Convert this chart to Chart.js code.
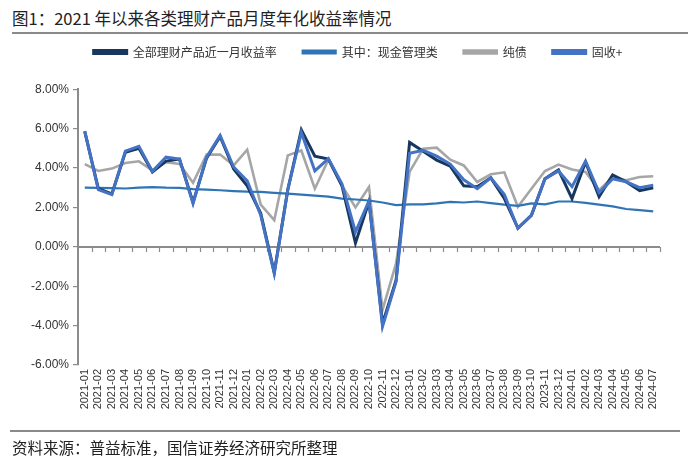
<!DOCTYPE html>
<html>
<head>
<meta charset="utf-8">
<script src="https://cdn.jsdelivr.net/npm/chart.js@4.4.1/dist/chart.umd.min.js"></script>
<style>
  html, body { margin: 0; padding: 0; background: #fff; }
  #wrap { position: relative; width: 700px; height: 468px; overflow: hidden; font-family: "Noto Sans CJK SC", "Liberation Sans", sans-serif; }
  #title { position: absolute; left: 12px; top: 6px; font-size: 16.5px; color: #222; white-space: nowrap; }
  #rule1 { position: absolute; left: 12px; top: 32px; width: 676px; height: 2px; background: #8a8a8a; }
  #rule2 { position: absolute; left: 10px; top: 430px; width: 670px; height: 2px; background: #8a8a8a; }
  #source { position: absolute; left: 12px; top: 436px; font-size: 15.5px; color: #222; white-space: nowrap; }
  #cv { position: absolute; left: 0; top: 0; }
</style>
</head>
<body>
<div id="wrap">
  <div id="title">图1：2021 年以来各类理财产品月度年化收益率情况</div>
  <div id="rule1"></div>
  <canvas id="cv" width="716" height="468"></canvas>
  <div id="rule2"></div>
  <div id="source">资料来源：普益标准，国信证券经济研究所整理</div>
</div>
<script>
const months = ["2021-01","2021-02","2021-03","2021-04","2021-05","2021-06","2021-07","2021-08","2021-09","2021-10","2021-11","2021-12",
  "2022-01","2022-02","2022-03","2022-04","2022-05","2022-06","2022-07","2022-08","2022-09","2022-10","2022-11","2022-12",
  "2023-01","2023-02","2023-03","2023-04","2023-05","2023-06","2023-07","2023-08","2023-09","2023-10","2023-11","2023-12",
  "2024-01","2024-02","2024-03","2024-04","2024-05","2024-06","2024-07"];

const seriesNames = ["全部理财产品近一月收益率", "其中：现金管理类", "纯债", "固收+"];

const allProducts = [5.85, 2.95, 2.68, 4.8, 5.0, 3.8, 4.35, 4.45, 2.25, 4.5, 5.6, 3.95,
  3.1, 1.7, -1.3, 2.9, 5.94, 4.6, 4.45, 3.1, 0.2, 2.3, -3.9, -1.7,
  5.3, 4.85, 4.4, 4.1, 3.1, 3.05, 3.5, 2.45, 0.95, 1.6, 3.45, 3.9,
  2.45, 4.3, 2.55, 3.65, 3.3, 2.85, 3.0];

const cashMgmt = [3.0, 2.99, 2.98, 2.96, 3.0, 3.03, 3.0, 2.99, 2.93, 2.9, 2.87, 2.83,
  2.8, 2.79, 2.74, 2.7, 2.65, 2.6, 2.55, 2.45, 2.4, 2.35, 2.25, 2.12,
  2.15, 2.15, 2.2, 2.28, 2.25, 2.3, 2.22, 2.14, 2.08, 2.2, 2.15, 2.3,
  2.3, 2.23, 2.14, 2.05, 1.92, 1.86, 1.8];

const pureBond = [4.2, 3.85, 3.97, 4.25, 4.34, 3.88, 4.3, 4.2, 3.25, 4.68, 4.68, 4.13,
  4.93, 2.14, 1.35, 4.64, 4.89, 2.95, 4.42, 3.12, 2.0, 3.04, -3.2, -0.84,
  3.8, 4.98, 5.03, 4.42, 4.13, 3.29, 3.68, 3.78, 2.03, 2.95, 3.85, 4.17,
  3.92, 3.8, 2.87, 3.54, 3.38, 3.54, 3.58];

const fixedIncomePlus = [5.88, 2.9, 2.65, 4.86, 5.1, 3.83, 4.55, 4.45, 2.2, 4.55, 5.65, 4.05,
  3.35, 1.6, -1.35, 2.9, 5.8, 3.85, 4.47, 3.2, 0.75, 2.33, -4.05, -1.77,
  4.75, 4.9, 4.6, 4.2, 3.4, 2.95, 3.5, 2.65, 0.93, 1.6, 3.45, 3.85,
  3.05, 4.35, 2.75, 3.45, 3.3, 3.0, 3.12];

const yTicks = [-6, -4, -2, 0, 2, 4, 6, 8];

const zeroAxis = {
  id: 'zeroAxis',
  beforeDatasetsDraw(chart) {
    const ctx = chart.ctx, x = chart.scales.x, y = chart.scales.y;
    const y0 = Math.round(y.getPixelForValue(0));
    const left = chart.chartArea.left, right = chart.chartArea.right;
    ctx.save();
    ctx.strokeStyle = '#8c8c8c';
    ctx.lineWidth = 2;
    ctx.beginPath();
    ctx.moveTo(left, y0); ctx.lineTo(right, y0);
    ctx.stroke();
    ctx.lineWidth = 1.2;
    const n = months.length;
    const step = x.getPixelForValue(1) - x.getPixelForValue(0);
    for (let k = 1; k <= n; k++) {
      const px = Math.round(x.getPixelForValue(k - 1) + step / 2);
      ctx.beginPath();
      ctx.moveTo(px + 0.5, y0);
      ctx.lineTo(px + 0.5, y0 + 5);
      ctx.stroke();
    }
    ctx.restore();
  }
};

new Chart(document.getElementById('cv'), {
  type: 'line',
  data: {
    labels: months,
    datasets: [
      { label: seriesNames[0], data: allProducts, borderColor: '#17375e', backgroundColor: '#17375e', borderWidth: 3, order: 1 },
      { label: seriesNames[1], data: cashMgmt, borderColor: '#2e75b6', backgroundColor: '#2e75b6', borderWidth: 2.2, order: 2 },
      { label: seriesNames[2], data: pureBond, borderColor: '#a6a6a6', backgroundColor: '#a6a6a6', borderWidth: 2.6, order: 3 },
      { label: seriesNames[3], data: fixedIncomePlus, borderColor: '#4472c4', backgroundColor: '#4472c4', borderWidth: 3, order: 0 }
    ]
  },
  options: {
    responsive: false,
    animation: false,
    devicePixelRatio: 1,
    layout: { padding: { top: 20, left: 0, right: 0, bottom: 50 } },
    elements: { point: { radius: 0, hoverRadius: 0 }, line: { tension: 0, borderJoinStyle: 'miter' } },
    plugins: {
      tooltip: { enabled: false },
      legend: {
        position: 'top',
        labels: {
          font: { size: 12, family: '"Noto Sans CJK SC", sans-serif' },
          color: '#333',
          boxWidth: 33,
          boxHeight: 3,
          padding: 26,
          sort: (a, b) => a.datasetIndex - b.datasetIndex
        }
      },
      subtitle: {
        display: true,
        text: ' ',
        position: 'top',
        weight: 500,
        font: { size: 1 },
        padding: { top: 20, bottom: 0 }
      }
    },
    scales: {
      x: {
        offset: true,
        grid: { display: false, drawTicks: false },
        border: { display: false },
        ticks: {
          autoSkip: false, maxRotation: 90, minRotation: 90, padding: 4,
          font: { size: 11, family: '"Liberation Sans", Arial, sans-serif' }, color: '#333'
        },
        afterFit(scale) { scale.height = 53; }
      },
      y: {
        min: -6, max: 8,
        afterBuildTicks(scale) { scale.ticks = yTicks.map(v => ({ value: v })); },
        grid: { drawOnChartArea: false, drawTicks: true, tickLength: 5, color: '#8c8c8c', lineWidth: 1.2 },
        border: { display: true, color: '#8c8c8c', width: 2 },
        ticks: {
          padding: 4,
          font: { size: 12, family: '"Liberation Sans", Arial, sans-serif' }, color: '#333',
          callback: v => v.toFixed(2) + '%'
        },
        afterFit(scale) { scale.width = 78; }
      },
      yRight: {
        position: 'right',
        min: 0, max: 1,
        grid: { display: false, drawTicks: false },
        border: { display: false },
        ticks: { display: false },
        afterFit(scale) { scale.width = 56; }
      }
    }
  },
  plugins: [zeroAxis]
});
</script>
</body>
</html>
